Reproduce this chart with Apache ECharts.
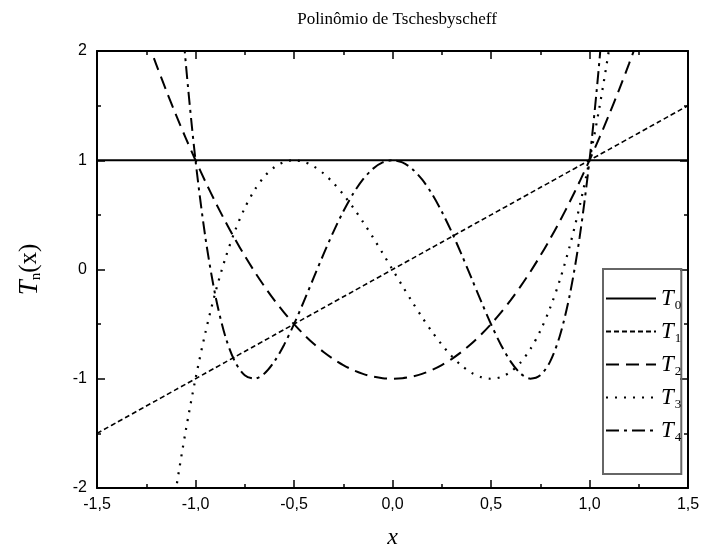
<!DOCTYPE html>
<html>
<head>
<meta charset="utf-8">
<script src="https://cdn.jsdelivr.net/npm/echarts@6/dist/echarts.min.js"></script>
<style>
  html, body { margin: 0; padding: 0; background: #fff; }
  #container { width: 701px; height: 553px; }
</style>
</head>
<body>
<div id="container"></div>
<script>
// x samples, step 0.05
let xs = [-1.5, -1.45, -1.4, -1.35, -1.3, -1.25, -1.2, -1.15, -1.1, -1.05,
    -1.0, -0.95, -0.9, -0.85, -0.8, -0.75, -0.7, -0.65, -0.6, -0.55,
    -0.5, -0.45, -0.4, -0.35, -0.3, -0.25, -0.2, -0.15, -0.1, -0.05,
    0.0, 0.05, 0.1, 0.15, 0.2, 0.25, 0.3, 0.35, 0.4, 0.45,
    0.5, 0.55, 0.6, 0.65, 0.7, 0.75, 0.8, 0.85, 0.9, 0.95,
    1.0, 1.05, 1.1, 1.15, 1.2, 1.25, 1.3, 1.35, 1.4, 1.45, 1.5];

let t0 = [1, 1, 1, 1, 1, 1, 1, 1, 1, 1,
    1, 1, 1, 1, 1, 1, 1, 1, 1, 1,
    1, 1, 1, 1, 1, 1, 1, 1, 1, 1,
    1, 1, 1, 1, 1, 1, 1, 1, 1, 1,
    1, 1, 1, 1, 1, 1, 1, 1, 1, 1,
    1, 1, 1, 1, 1, 1, 1, 1, 1, 1, 1];

let t1 = [-1.5, -1.45, -1.4, -1.35, -1.3, -1.25, -1.2, -1.15, -1.1, -1.05,
    -1.0, -0.95, -0.9, -0.85, -0.8, -0.75, -0.7, -0.65, -0.6, -0.55,
    -0.5, -0.45, -0.4, -0.35, -0.3, -0.25, -0.2, -0.15, -0.1, -0.05,
    0.0, 0.05, 0.1, 0.15, 0.2, 0.25, 0.3, 0.35, 0.4, 0.45,
    0.5, 0.55, 0.6, 0.65, 0.7, 0.75, 0.8, 0.85, 0.9, 0.95,
    1.0, 1.05, 1.1, 1.15, 1.2, 1.25, 1.3, 1.35, 1.4, 1.45, 1.5];

let t2 = [3.5, 3.205, 2.92, 2.645, 2.38, 2.125, 1.88, 1.645, 1.42, 1.205,
    1.0, 0.805, 0.62, 0.445, 0.28, 0.125, -0.02, -0.155, -0.28, -0.395,
    -0.5, -0.595, -0.68, -0.755, -0.82, -0.875, -0.92, -0.955, -0.98, -0.995,
    -1.0, -0.995, -0.98, -0.955, -0.92, -0.875, -0.82, -0.755, -0.68, -0.595,
    -0.5, -0.395, -0.28, -0.155, -0.02, 0.125, 0.28, 0.445, 0.62, 0.805,
    1.0, 1.205, 1.42, 1.645, 1.88, 2.125, 2.38, 2.645, 2.92, 3.205, 3.5];

let t3 = [-9.0, -7.8445, -6.776, -5.7915, -4.888, -4.0625, -3.312, -2.6335, -2.024, -1.4805,
    -1.0, -0.5795, -0.216, 0.0935, 0.352, 0.5625, 0.728, 0.8515, 0.936, 0.9845,
    1.0, 0.9855, 0.944, 0.8785, 0.792, 0.6875, 0.568, 0.4365, 0.296, 0.1495,
    0.0, -0.1495, -0.296, -0.4365, -0.568, -0.6875, -0.792, -0.8785, -0.944, -0.9855,
    -1.0, -0.9845, -0.936, -0.8515, -0.728, -0.5625, -0.352, -0.0935, 0.216, 0.5795,
    1.0, 1.4805, 2.024, 2.6335, 3.312, 4.0625, 4.888, 5.7915, 6.776, 7.8445, 9.0];

let t4 = [23.5, 19.544, 16.053, 12.992, 10.329, 8.031, 6.069, 4.412, 3.033, 1.904,
    1.0, 0.296, -0.231, -0.604, -0.843, -0.969, -0.999, -0.952, -0.843, -0.688,
    -0.5, -0.292, -0.075, 0.140, 0.345, 0.531, 0.693, 0.824, 0.921, 0.980,
    1.0, 0.980, 0.921, 0.824, 0.693, 0.531, 0.345, 0.140, -0.075, -0.292,
    -0.5, -0.688, -0.843, -0.952, -0.999, -0.969, -0.843, -0.604, -0.231, 0.296,
    1.0, 1.904, 3.033, 4.412, 6.069, 8.031, 10.329, 12.992, 16.053, 19.544, 23.5];

let xTicks = [-1.5, -1.0, -0.5, 0.0, 0.5, 1.0, 1.5];
let yTicks = [-2, -1, 0, 1, 2];

let seriesNames = ['T0', 'T1', 'T2', 'T3', 'T4'];
let seriesValues = [t0, t1, t2, t3, t4];
let dashes = ['solid', [5, 3], [13, 7], [2, 7], [13, 5, 3, 5]];
let widths = [2, 1.6, 2, 2.2, 2];

const serif = "'Liberation Serif', 'DejaVu Serif', serif";
const sans = "'Liberation Sans', Arial, sans-serif";

let dom = document.getElementById('container');
let myChart = echarts.init(dom, null, { renderer: 'canvas' });

let series = seriesNames.map(function (name, k) {
    return {
        name: name,
        type: 'line',
        data: xs.map(function (x, i) { return [x, seriesValues[k][i]]; }),
        showSymbol: false,
        symbol: 'none',
        smooth: 0.3,
        clip: true,
        silent: true,
        animation: false,
        lineStyle: { color: '#000', width: widths[k], type: dashes[k] },
        itemStyle: { color: '#000' }
    };
});

function commaFmt(v) {
    return v.toFixed(1).replace('.', ',');
}

let axisCommon = {
    type: 'value',
    axisLine: { show: true, onZero: false, lineStyle: { color: '#000', width: 2 } },
    axisTick: { show: true, inside: true, length: 8, lineStyle: { color: '#000', width: 1.5 } },
    minorTick: { show: true, splitNumber: 2, length: 4, lineStyle: { color: '#000', width: 1.5 } },
    splitLine: { show: false }
};

let option = {
    animation: false,
    title: {
        text: 'Polinômio de Tschesbyscheff',
        left: 392,
        textAlign: 'center',
        top: 6,
        textStyle: { fontFamily: serif, fontWeight: 'normal', fontSize: 17, color: '#000' }
    },
    grid: { left: 97, right: 13, top: 51, bottom: 65, outerBoundsMode: 'none', containLabel: false },
    legend: {
        orient: 'vertical',
        left: 603,
        top: 269,
        data: seriesNames,
        itemWidth: 50,
        itemHeight: 14,
        itemGap: 8,
        padding: [18, 0, 30, 2],
        borderColor: '#666',
        borderWidth: 2,
        selectedMode: false,
        itemStyle: { opacity: 0 },
        formatter: function (n) { return '{t|T}{s|' + n.slice(1) + '}'; },
        textStyle: {
            color: '#000',
            rich: {
                t: { fontFamily: serif, fontStyle: 'italic', fontSize: 23, color: '#000' },
                s: { fontFamily: serif, fontSize: 13, color: '#000', padding: [14, 0, 0, 1] }
            }
        }
    },
    xAxis: [
        Object.assign({}, axisCommon, {
            min: -1.5, max: 1.5, interval: 0.5, position: 'bottom',
            name: 'x',
            nameLocation: 'middle',
            nameGap: 38,
            nameTextStyle: { fontFamily: serif, fontStyle: 'italic', fontSize: 24, color: '#000' },
            axisLabel: { color: '#000', fontFamily: sans, fontSize: 16, margin: 9, formatter: commaFmt,
                customValues: xTicks }
        }),
        Object.assign({}, axisCommon, {
            min: -1.5, max: 1.5, interval: 0.5, position: 'top',
            axisLabel: { show: false }
        })
    ],
    yAxis: [
        Object.assign({}, axisCommon, {
            min: -2, max: 2, interval: 1, position: 'left',
            name: '{t|T}{n|n}{p|(x)}',
            nameLocation: 'middle',
            nameRotate: 90,
            nameGap: 53,
            nameTextStyle: {
                color: '#000',
                rich: {
                    t: { fontFamily: serif, fontStyle: 'italic', fontSize: 27, color: '#000' },
                    n: { fontFamily: serif, fontSize: 15, color: '#000', padding: [14, 0, 0, 0] },
                    p: { fontFamily: serif, fontSize: 25, color: '#000' }
                }
            },
            axisLabel: { color: '#000', fontFamily: sans, fontSize: 16, margin: 10,
                customValues: yTicks }
        }),
        Object.assign({}, axisCommon, {
            min: -2, max: 2, interval: 1, position: 'right',
            axisLabel: { show: false }
        })
    ],
    series: series
};

myChart.setOption(option);
</script>
</body>
</html>
